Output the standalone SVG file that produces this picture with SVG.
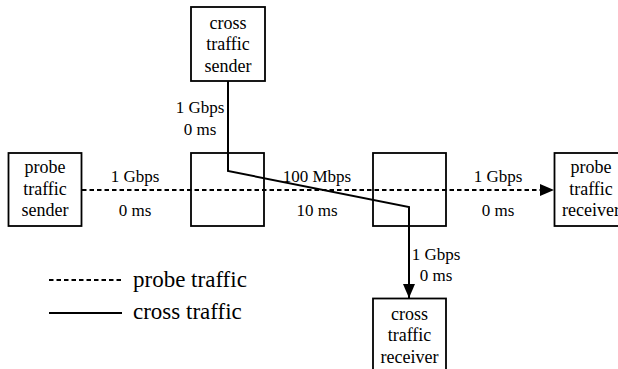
<svg xmlns="http://www.w3.org/2000/svg" width="618" height="369" viewBox="0 0 618 369">
  <style>
    .box { fill: #fff; stroke: #000; stroke-width: 1.8; }
    .node { font-size: 18px; text-anchor: middle; }
    .lbl { font-size: 17px; text-anchor: middle; }
    .legend { font-size: 23px; }
    .probe { fill: none; stroke: #000; stroke-width: 2; stroke-dasharray: 4.5 3; }
    .cross { fill: none; stroke: #000; stroke-width: 2; }
  </style>
  <defs>
    <marker id="head" markerUnits="userSpaceOnUse" markerWidth="16" markerHeight="12" refX="14" refY="6" orient="auto">
      <path d="M0,0 L14,6 L0,12 Z" fill="#000"/>
    </marker>
  </defs>

  <g font-family="Liberation Serif, Times New Roman, DejaVu Serif, serif" fill="#000">
  <!-- nodes -->
  <g id="cross-sender">
    <rect class="box" x="191" y="7" width="74" height="74"/>
    <text class="node" x="228" y="28.5">cross</text>
    <text class="node" x="228" y="50">traffic</text>
    <text class="node" x="228" y="71.5">sender</text>
  </g>
  <g id="probe-sender">
    <rect class="box" x="8.5" y="153" width="73" height="73"/>
    <text class="node" x="45" y="173">probe</text>
    <text class="node" x="45" y="194.5">traffic</text>
    <text class="node" x="45" y="216">sender</text>
  </g>
  <g id="router-1">
    <rect class="box" x="191" y="153" width="73" height="73"/>
  </g>
  <g id="router-2">
    <rect class="box" x="373" y="153" width="73" height="73"/>
  </g>
  <g id="probe-receiver">
    <rect class="box" x="554.5" y="153" width="74" height="73"/>
    <text class="node" x="591" y="173">probe</text>
    <text class="node" x="591" y="194.5">traffic</text>
    <text class="node" x="591" y="216">receiver</text>
  </g>
  <g id="cross-receiver">
    <rect class="box" x="373" y="298.5" width="73" height="74"/>
    <text class="node" x="409.5" y="319.5">cross</text>
    <text class="node" x="409.5" y="341">traffic</text>
    <text class="node" x="409.5" y="362.5">receiver</text>
  </g>

  <!-- connectors -->
  <g id="connectors">
    <line class="probe" x1="82" y1="190" x2="554" y2="190" marker-end="url(#head)"/>
    <polyline class="cross" points="228,81 228,171 409,207 409,298" marker-end="url(#head)"/>
  </g>

  <!-- link labels -->
  <g id="labels">
    <text class="lbl" x="200" y="113">1 Gbps</text>
    <text class="lbl" x="200" y="135">0 ms</text>
    <text class="lbl" x="135" y="182">1 Gbps</text>
    <text class="lbl" x="135" y="216">0 ms</text>
    <text class="lbl" x="317" y="182">100 Mbps</text>
    <text class="lbl" x="317" y="216">10 ms</text>
    <text class="lbl" x="498" y="182">1 Gbps</text>
    <text class="lbl" x="498" y="216">0 ms</text>
    <text class="lbl" x="436" y="260">1 Gbps</text>
    <text class="lbl" x="436" y="281">0 ms</text>
  </g>

  <!-- legend -->
  <g id="legend">
    <line class="probe" x1="49" y1="280" x2="122" y2="280"/>
    <text class="legend" x="133" y="287">probe traffic</text>
    <line class="cross" x1="49" y1="313" x2="122" y2="313"/>
    <text class="legend" x="133" y="318.5">cross traffic</text>
  </g>
  </g>
</svg>
